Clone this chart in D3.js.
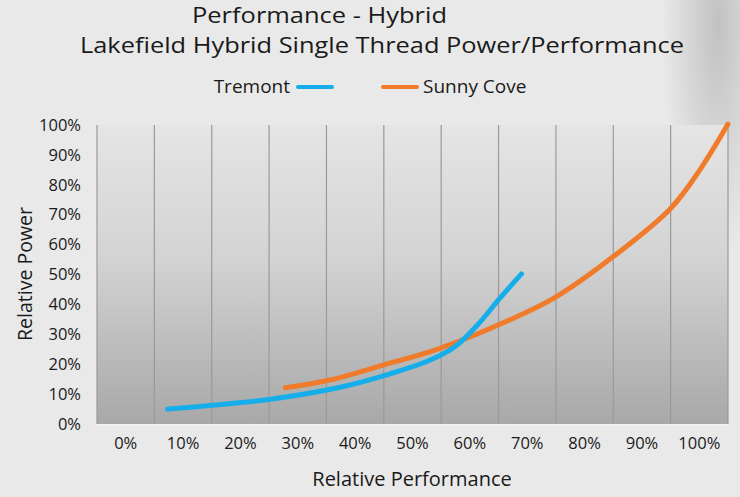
<!DOCTYPE html>
<html>
<head>
<meta charset="utf-8">
<script src="https://cdn.jsdelivr.net/npm/d3@7"></script>
<style>
  body { margin: 0; background: #e9e9e9; }
  text { font-family: "Open Sans", sans-serif; fill: #1a1a1a; }
</style>
</head>
<body>
<div id="container"></div>
<script>
// categories on the x axis and value ticks on the y axis
const perfLabels = ["0%", "10%", "20%", "30%", "40%", "50%", "60%", "70%", "80%", "90%", "100%"];
const powerTicks = [0, 10, 20, 30, 40, 50, 60, 70, 80, 90, 100];

// [relative performance, relative power]
const tremont = [
  [7.3, 5.0], [25.2, 8.3], [37.4, 12.3], [46.1, 16.8], [53.0, 21.3],
  [57.5, 26.0], [61.5, 33.5], [65.2, 42.0], [69.0, 50.2]
];
const sunnyCove = [
  [27.8, 12.1], [35.6, 14.7], [44.9, 19.7], [54.8, 25.3], [68.2, 35.9],
  [75.1, 42.6], [85.0, 56.0], [95.0, 72.1], [100.1, 85.0], [105.0, 100.3]
];

const width = 740, height = 497;
const plot = { left: 97, right: 728, top: 125, bottom: 424 };

let svg = d3.select("#container").
  append("svg").
  attr("width", width).
  attr("height", height);

// background: light grey with a shadow near the top right
let defs = svg.append("defs");
let shade = defs.append("radialGradient").attr("id", "shade").
  attr("cx", "97%").attr("cy", "5%").attr("r", "30%").
  attr("gradientTransform", "translate(0.97,0.05) scale(0.25,1.6) translate(-0.97,-0.05)");
shade.append("stop").attr("offset", "0%").attr("stop-color", "#bdbdbd").attr("stop-opacity", 0.9);
shade.append("stop").attr("offset", "100%").attr("stop-color", "#bdbdbd").attr("stop-opacity", 0);

let plotBg = defs.append("linearGradient").attr("id", "plotBg").
  attr("x1", 0).attr("x2", 0).attr("y1", 0).attr("y2", 1);
plotBg.append("stop").attr("offset", "0%").attr("stop-color", "#e5e5e5");
plotBg.append("stop").attr("offset", "45%").attr("stop-color", "#d3d3d3");
plotBg.append("stop").attr("offset", "100%").attr("stop-color", "#a8a8a8");

svg.append("rect").attr("width", width).attr("height", height).attr("fill", "#e9e9e9");
svg.append("rect").attr("width", width).attr("height", height).attr("fill", "url(#shade)");

// scales
let xBand = d3.scaleBand().
  domain(perfLabels).
  range([plot.left, plot.right]);
let bw = xBand.bandwidth();
let x = d3.scaleLinear().
  domain([0, 100]).
  range([xBand("0%") + bw / 2, xBand("100%") + bw / 2]);
let y = d3.scaleLinear().
  domain([0, 100]).
  range([plot.bottom, plot.top]);

// plot area
svg.append("rect").
  attr("x", plot.left).
  attr("y", plot.top).
  attr("width", plot.right - plot.left).
  attr("height", plot.bottom - plot.top).
  attr("fill", "url(#plotBg)");

// vertical grid lines at the band edges
let edges = perfLabels.map(d => xBand(d)).concat([plot.right]);
svg.append("g").
  selectAll("line").
  data(edges).
  enter().
  append("line").
  attr("x1", d => d).
  attr("x2", d => d).
  attr("y1", plot.top).
  attr("y2", plot.bottom).
  attr("stroke", "#9a9a9a").
  attr("stroke-width", 1.2);

svg.append("line").
  attr("x1", plot.left).
  attr("x2", plot.right).
  attr("y1", plot.bottom + 1).
  attr("y2", plot.bottom + 1).
  attr("stroke", "#f2f2f2").
  attr("stroke-width", 2);

// axes
let xAxis = d3.axisBottom(xBand).tickSize(0).tickPadding(13);
svg.append("g").
  attr("transform", `translate(0,${plot.bottom})`).
  call(xAxis).
  call(g => g.select(".domain").remove()).
  selectAll("text").
  style("font-size", "16.5px").
  attr("fill", "#1a1a1a");

let yAxis = d3.axisLeft(y).
  tickValues(powerTicks).
  tickFormat(d => d + "%").
  tickSize(0).
  tickPadding(16);
svg.append("g").
  attr("transform", `translate(${plot.left},0)`).
  call(yAxis).
  call(g => g.select(".domain").remove()).
  selectAll("text").
  style("font-size", "16.5px").
  attr("fill", "#1a1a1a");

// series
let line = d3.line().
  x(d => x(d[0])).
  y(d => y(d[1])).
  curve(d3.curveCatmullRom.alpha(0.5));

svg.append("path").
  datum(sunnyCove).
  attr("d", line).
  attr("fill", "none").
  attr("stroke", "#ef7b2b").
  attr("stroke-width", 5).
  attr("stroke-linecap", "round");

svg.append("path").
  datum(tremont).
  attr("d", line).
  attr("fill", "none").
  attr("stroke", "#16aeea").
  attr("stroke-width", 5).
  attr("stroke-linecap", "round");

// titles (stretched to the slide's width, kept small enough not to collide)
svg.append("text").
  attr("x", 192).
  attr("y", 23).
  attr("textLength", 255).
  attr("lengthAdjust", "spacingAndGlyphs").
  style("font-size", "22px").
  text("Performance - Hybrid");

svg.append("text").
  attr("x", 80).
  attr("y", 53).
  attr("textLength", 604).
  attr("lengthAdjust", "spacingAndGlyphs").
  style("font-size", "22px").
  text("Lakefield Hybrid Single Thread Power/Performance");

// legend
svg.append("text").
  attr("x", 290).
  attr("y", 93).
  attr("text-anchor", "end").
  style("font-size", "19px").
  text("Tremont");
svg.append("line").
  attr("x1", 298).attr("x2", 332).
  attr("y1", 87).attr("y2", 87).
  attr("stroke", "#16aeea").
  attr("stroke-width", 4).
  attr("stroke-linecap", "round");
svg.append("line").
  attr("x1", 383).attr("x2", 417).
  attr("y1", 87).attr("y2", 87).
  attr("stroke", "#ef7b2b").
  attr("stroke-width", 4).
  attr("stroke-linecap", "round");
svg.append("text").
  attr("x", 423).
  attr("y", 93).
  style("font-size", "19px").
  text("Sunny Cove");

// axis titles
svg.append("text").
  attr("x", 412).
  attr("y", 486).
  attr("text-anchor", "middle").
  style("font-size", "20px").
  text("Relative Performance");

svg.append("text").
  attr("transform", "translate(32,274) rotate(-90)").
  attr("text-anchor", "middle").
  style("font-size", "19.5px").
  text("Relative Power");
</script>
</body>
</html>
